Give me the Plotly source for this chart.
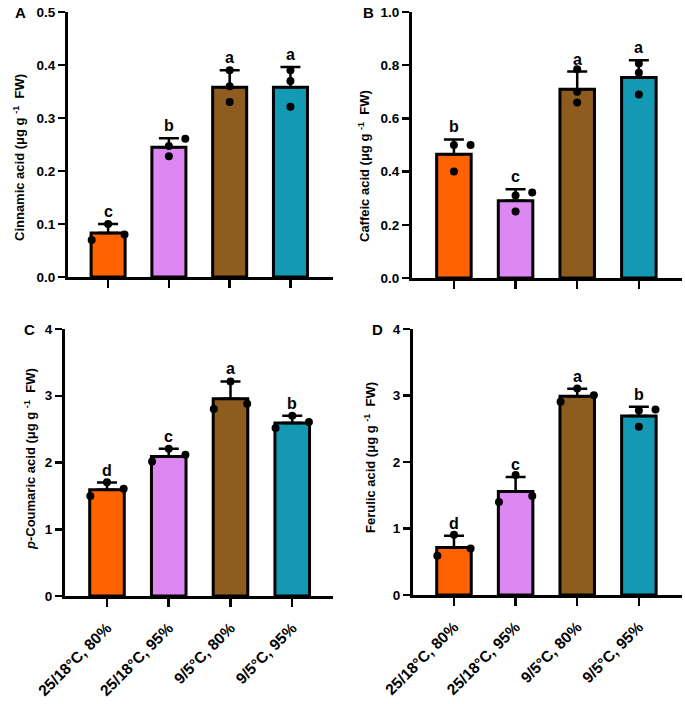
import plotly.graph_objects as go

categories = ["25/18°C, 80%", "25/18°C, 95%", "9/5°C, 80%", "9/5°C, 95%"]
colors = ["#FF6200", "#DD88F2", "#8E5C1E", "#1399B4"]

cinnamic_mean = [0.083, 0.245, 0.358, 0.358]
cinnamic_sd = [0.017, 0.017, 0.032, 0.038]
cinnamic_points = [[0.100, 0.070, 0.080], [0.247, 0.228, 0.261], [0.390, 0.360, 0.330], [0.390, 0.370, 0.321]]
cinnamic_letters = ["c", "b", "a", "a"]
cinnamic_ticks = [0.0, 0.1, 0.2, 0.3, 0.4, 0.5]

caffeic_mean = [0.465, 0.290, 0.710, 0.754]
caffeic_sd = [0.056, 0.044, 0.066, 0.065]
caffeic_points = [[0.50, 0.50, 0.40], [0.31, 0.321, 0.25], [0.785, 0.70, 0.66], [0.806, 0.772, 0.69]]
caffeic_letters = ["b", "c", "a", "a"]
caffeic_ticks = [0.0, 0.2, 0.4, 0.6, 0.8, 1.0]

coumaric_mean = [1.59, 2.09, 2.955, 2.59]
coumaric_sd = [0.11, 0.115, 0.26, 0.11]
coumaric_points = [[1.705, 1.50, 1.605], [2.205, 2.015, 2.115], [3.215, 2.80, 2.88], [2.70, 2.515, 2.605]]
coumaric_letters = ["d", "c", "a", "b"]
coumaric_ticks = [0, 1, 2, 3, 4]

ferulic_mean = [0.715, 1.555, 2.99, 2.69]
ferulic_sd = [0.175, 0.22, 0.11, 0.14]
ferulic_points = [[0.905, 0.59, 0.70], [1.805, 1.40, 1.49], [3.105, 2.905, 3.005], [2.775, 2.79, 2.53]]
ferulic_letters = ["d", "c", "a", "b"]
ferulic_ticks = [0, 1, 2, 3, 4]

# horizontal placement side (-1 left, 0 centre, 1 right) of each replicate dot
sides_A = [[0, -1, 1], [0, 0, 1], [0, 0, 0], [0, 0, 0]]
sides_B = [[0, 1, 0], [0, 1, 0], [0, 0, 0], [0, 0, 0]]
sides_C = [[0, -1, 1], [0, -1, 1], [0, -1, 1], [0, -1, 1]]
sides_D = [[0, -1, 1], [0, -1, 1], [0, -1, 1], [0, 1, 0]]
SPREAD = 0.27

W, H = 685, 704
FONT = "Liberation Sans, Arial, Helvetica, sans-serif"
UNIT = " (μg g <sup>-1</sup>  FW)"

panels = [
    dict(mean=cinnamic_mean, sd=cinnamic_sd, pts=cinnamic_points, let=cinnamic_letters, sides=sides_A,
         ticks=cinnamic_ticks, fmt="{:.1f}",
         xpx=(68, 333), ypx=(277, 12), yr=[0, 0.5], xr=[-0.66, 3.7],
         title="Cinnamic acid" + UNIT, tpos=(19, 158), label="A", lpos=(20, 13), showx=False),
    dict(mean=caffeic_mean, sd=caffeic_sd, pts=caffeic_points, let=caffeic_letters, sides=sides_B,
         ticks=caffeic_ticks, fmt="{:.1f}",
         xpx=(412, 682), ypx=(278, 12), yr=[0, 1.0], xr=[-0.68, 3.70],
         title="Caffeic acid" + UNIT, tpos=(364, 166), label="B", lpos=(368, 13), showx=False),
    dict(mean=coumaric_mean, sd=coumaric_sd, pts=coumaric_points, let=coumaric_letters, sides=sides_C,
         ticks=coumaric_ticks, fmt="{:d}",
         xpx=(65, 333), ypx=(596, 329), yr=[0, 4], xr=[-0.68, 3.66],
         title="<i>p</i>-Coumaric acid" + UNIT, tpos=(30, 459), label="C", lpos=(29, 329), showx=True),
    dict(mean=ferulic_mean, sd=ferulic_sd, pts=ferulic_points, let=ferulic_letters, sides=sides_D,
         ticks=ferulic_ticks, fmt="{:d}",
         xpx=(413, 682), ypx=(595, 329), yr=[0, 4], xr=[-0.665, 3.70],
         title="Ferulic acid" + UNIT, tpos=(370, 458), label="D", lpos=(377, 329), showx=True),
]

fig = go.Figure()
annotations = []
pos = list(range(len(categories)))

for i, p in enumerate(panels):
    n = "" if i == 0 else str(i + 1)
    xa, ya = "x" + n, "y" + n
    fig.add_trace(go.Bar(
        x=pos, y=p["mean"], xaxis=xa, yaxis=ya, width=0.56,
        marker=dict(color=colors, line=dict(color="black", width=3)),
        error_y=dict(type="data", array=p["sd"], arrayminus=[0] * 4, symmetric=False,
                     color="black", thickness=2.5, width=10),
        showlegend=False, cliponaxis=False, hoverinfo="skip",
    ))
    xs, ys = [], []
    for j, grp in enumerate(p["pts"]):
        for k, v in enumerate(grp):
            xs.append(j + SPREAD * p["sides"][j][k])
            ys.append(v)
    fig.add_trace(go.Scatter(
        x=xs, y=ys, xaxis=xa, yaxis=ya, mode="markers",
        marker=dict(color="black", size=8), showlegend=False, cliponaxis=False, hoverinfo="skip",
    ))
    x0, x1 = p["xpx"]
    yb, yt = p["ypx"]
    axx = dict(domain=[x0 / W, x1 / W], range=p["xr"], anchor=ya, showline=True, linecolor="black",
               linewidth=3, ticks="outside", ticklen=8, tickwidth=2.5, tickcolor="black",
               tickvals=pos, ticktext=["<b>%s</b>" % c for c in categories],
               showticklabels=p["showx"], ticklabelstandoff=6,
               tickangle=-45, showgrid=False, zeroline=False, automargin=False, fixedrange=True,
               tickfont=dict(family=FONT, size=15.5, color="black"))
    axy = dict(domain=[1 - yb / H, 1 - yt / H], range=p["yr"], anchor=xa, showline=True, linecolor="black",
               linewidth=3, ticks="outside", ticklen=7, tickwidth=2.5, tickcolor="black",
               tickvals=p["ticks"], ticktext=["<b>%s</b>" % p["fmt"].format(t) for t in p["ticks"]],
               showgrid=False, zeroline=False, automargin=False, fixedrange=True,
               tickfont=dict(family=FONT, size=13.5, color="black"))
    fig.layout["xaxis" + n] = axx
    fig.layout["yaxis" + n] = axy
    annotations.append(dict(text="<b>%s</b>" % p["title"], x=p["tpos"][0] / W, y=1 - p["tpos"][1] / H,
                            xref="paper", yref="paper",
                            textangle=-90, showarrow=False, xanchor="center", yanchor="middle",
                            font=dict(family=FONT, size=13, color="black")))
    annotations.append(dict(text="<b>%s</b>" % p["label"], x=p["lpos"][0] / W, y=1 - p["lpos"][1] / H,
                            xref="paper", yref="paper", showarrow=False, xanchor="center", yanchor="middle",
                            font=dict(family=FONT, size=15, color="black")))
    for j, L in enumerate(p["let"]):
        annotations.append(dict(text="<b>%s</b>" % L, x=j, y=p["mean"][j] + p["sd"][j], xref=xa, yref=ya,
                                showarrow=False, xanchor="center", yanchor="bottom", yshift=2,
                                font=dict(family=FONT, size=16, color="black")))

fig.update_layout(
    width=W, height=H, margin=dict(l=0, r=0, t=0, b=0),
    paper_bgcolor="white", plot_bgcolor="white",
    annotations=annotations, bargap=0.4, hovermode=False,
    font=dict(family=FONT, color="black"),
)

fig.write_html("out.html", config={"displayModeBar": False, "staticPlot": True},
               post_script="document.body.style.margin='0px';document.body.style.overflow='hidden';")
